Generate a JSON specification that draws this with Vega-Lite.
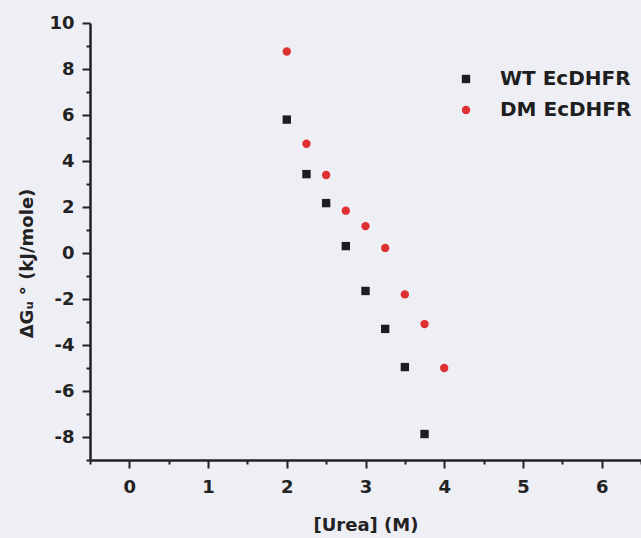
{
  "$schema": "https://vega.github.io/schema/vega-lite/v6.json",
  "autosize": "none",
  "width": 551,
  "height": 437,
  "padding": {"left": 90, "top": 23, "right": 0, "bottom": 78},
  "background": "#eeeef5",
  "config": {
    "view": {"stroke": null},
    "font": "DejaVu Sans",
    "axis": {
      "domainColor": "#222222",
      "domainWidth": 2.5,
      "tickColor": "#222222",
      "tickWidth": 2,
      "grid": false,
      "labelFont": "DejaVu Sans",
      "labelFontWeight": "bold",
      "labelFontSize": 18,
      "labelColor": "#222222",
      "titleFont": "DejaVu Sans",
      "titleFontWeight": "bold",
      "titleFontSize": 18,
      "titleColor": "#222222"
    }
  },
  "data": {
    "values": [
      {"urea": 2.0, "dG": 5.8, "protein": "WT EcDHFR"},
      {"urea": 2.25, "dG": 3.43, "protein": "WT EcDHFR"},
      {"urea": 2.5, "dG": 2.17, "protein": "WT EcDHFR"},
      {"urea": 2.75, "dG": 0.3, "protein": "WT EcDHFR"},
      {"urea": 3.0, "dG": -1.65, "protein": "WT EcDHFR"},
      {"urea": 3.25, "dG": -3.3, "protein": "WT EcDHFR"},
      {"urea": 3.5, "dG": -4.96, "protein": "WT EcDHFR"},
      {"urea": 3.75, "dG": -7.87, "protein": "WT EcDHFR"},
      {"urea": 2.0, "dG": 8.76, "protein": "DM EcDHFR"},
      {"urea": 2.25, "dG": 4.75, "protein": "DM EcDHFR"},
      {"urea": 2.5, "dG": 3.39, "protein": "DM EcDHFR"},
      {"urea": 2.75, "dG": 1.84, "protein": "DM EcDHFR"},
      {"urea": 3.0, "dG": 1.17, "protein": "DM EcDHFR"},
      {"urea": 3.25, "dG": 0.22, "protein": "DM EcDHFR"},
      {"urea": 3.5, "dG": -1.8, "protein": "DM EcDHFR"},
      {"urea": 3.75, "dG": -3.09, "protein": "DM EcDHFR"},
      {"urea": 4.0, "dG": -5.0, "protein": "DM EcDHFR"}
    ]
  },
  "mark": {"type": "point", "filled": true, "opacity": 1, "size": 70},
  "encoding": {
    "x": {
      "field": "urea",
      "type": "quantitative",
      "scale": {"domain": [-0.5, 6.5], "nice": false, "zero": false},
      "axis": {
        "title": "[Urea] (M)",
        "values": [-0.5, 0, 0.5, 1, 1.5, 2, 2.5, 3, 3.5, 4, 4.5, 5, 5.5, 6, 6.5],
        "labelExpr": "datum.value % 1 === 0 ? toString(datum.value) : ''",
        "tickSize": {"condition": {"test": "datum.value % 1 !== 0", "value": 4}, "value": 8},
        "labelPadding": 10,
        "titlePadding": 20
      }
    },
    "y": {
      "field": "dG",
      "type": "quantitative",
      "scale": {"domain": [-9, 10], "nice": false, "zero": false},
      "axis": {
        "title": "ΔGᵤ ° (kJ/mole)",
        "values": [-9, -8, -7, -6, -5, -4, -3, -2, -1, 0, 1, 2, 3, 4, 5, 6, 7, 8, 9, 10],
        "labelExpr": "datum.value % 2 === 0 ? toString(datum.value) : ''",
        "tickSize": {"condition": {"test": "datum.value % 2 !== 0", "value": 4}, "value": 8},
        "labelPadding": 8,
        "titleX": -63,
        "titleY": 240,
        "titleAngle": -90,
        "titleAlign": "center",
        "titleBaseline": "middle"
      }
    },
    "shape": {
      "field": "protein",
      "type": "nominal",
      "scale": {"domain": ["WT EcDHFR", "DM EcDHFR"], "range": ["square", "circle"]}
    },
    "color": {
      "field": "protein",
      "type": "nominal",
      "scale": {"domain": ["WT EcDHFR", "DM EcDHFR"], "range": ["#1c1c22", "#de3030"]},
      "legend": {
        "title": null,
        "orient": "none",
        "legendX": 366,
        "legendY": 46,
        "padding": 0,
        "labelFont": "DejaVu Sans",
        "labelFontWeight": "bold",
        "labelFontSize": 20,
        "labelColor": "#1e1e1e",
        "labelOffset": 24,
        "symbolSize": 70,
        "rowPadding": 11,
        "symbolStrokeWidth": 0
      }
    }
  }
}
